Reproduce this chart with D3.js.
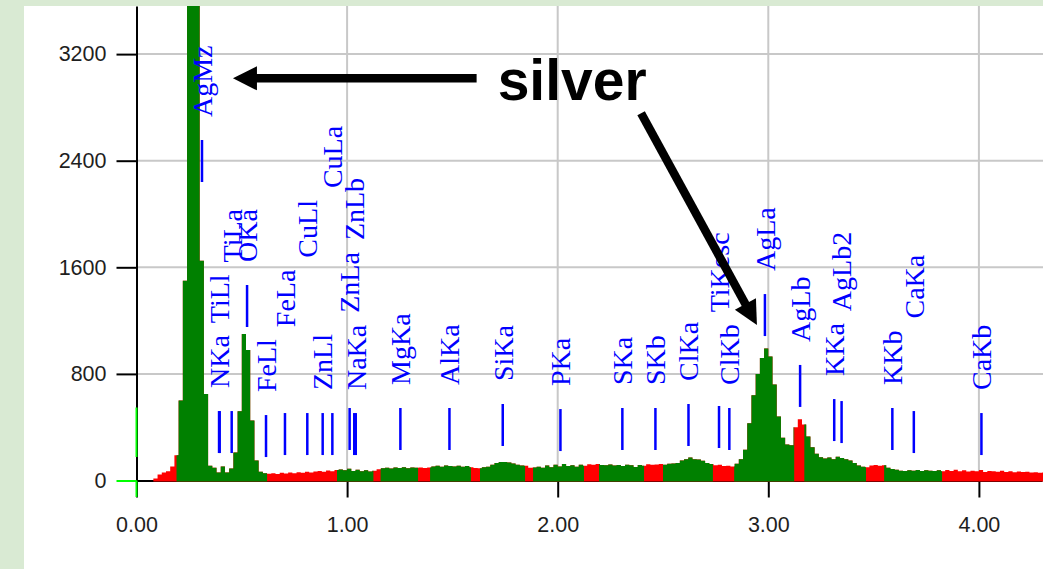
<!DOCTYPE html>
<html>
<head>
<meta charset="utf-8">
<script src="https://cdn.jsdelivr.net/npm/d3@7"></script>
<style>
  body { margin: 0; background: #d9ead3; }
  #chart { width: 1043px; height: 569px; }
  .tick text { font-family: "Liberation Sans", Arial, sans-serif; font-size: 21.5px; fill: #1e1e1e; }
</style>
</head>
<body>
<div id="chart"></div>
<script>
// spectrum: counts per 0.02 keV channel, first channel at 0 keV
var channelStep = 0.02;
var counts = [
  0, 0, 0, 0, 15, 45, 60, 70, 105, 190,
  600, 1500, 4000, 4500, 4200, 1650, 650, 110, 95, 60,
  105, 60, 90, 210, 520, 1100, 980, 450, 150, 65,
  55, 50, 55, 48, 58, 52, 60, 55, 62, 58,
  66, 60, 68, 72, 66, 75, 70, 78, 82, 76,
  88, 72, 80, 70, 76, 68, 74, 84, 92, 96,
  90, 98, 94, 100, 92, 98, 95, 97, 94, 98,
  105, 110, 104, 112, 108, 106, 110, 104, 108, 100,
  94, 92, 100, 104, 118, 132, 138, 138, 136, 128,
  118, 112, 110, 96, 98, 104, 96, 112, 100, 118,
  106, 124, 108, 114, 104, 118, 110, 122, 118, 124,
  116, 114, 120, 112, 116, 108, 118, 114, 102, 116,
  110, 122, 118, 120, 124, 118, 126, 128, 132, 150,
  160, 172, 160, 158, 148, 132, 124, 114, 118, 108,
  110, 106, 125, 160, 230, 430, 640, 800, 920, 990,
  930, 720, 480, 320, 270, 265, 400, 460, 420, 330,
  250, 200, 175, 165, 172, 160, 178, 168, 160, 150,
  132, 112, 104, 100, 112, 116, 110, 114, 96, 86,
  80, 74, 72, 76, 74, 78, 72, 76, 74, 72,
  76, 70, 78, 72, 80, 70, 76, 68, 74, 70,
  78, 64, 72, 70, 66, 74, 64, 70, 62, 68,
  64, 66, 60, 62, 58, 60
];

// energy windows drawn green, the rest of the spectrum is red
var greenRegions = [
  [0.19, 0.62], [0.952, 1.125], [1.159, 1.337], [1.394, 1.588], [1.631, 1.845],
  [1.883, 2.125], [2.196, 2.41], [2.50, 2.737], [2.838, 3.123], [3.171, 3.464], [3.55, 3.825]
];

// line markers (K lines, then L lines, then M lines, then escape peaks)
var lineNames = ["NKa", "OKa", "NaKa", "MgKa", "AlKa", "SiKa", "PKa", "SKa", "SKb", "ClKa", "ClKb", "KKa", "KKb", "CaKa", "CaKb",
  "TiLl", "TiLa", "FeLl", "FeLa", "CuLl", "ZnLl", "CuLa", "ZnLa", "ZnLb", "AgLa", "AgLb", "AgLb2",
  "AgMz",
  "TiKesc"];
var lineEnergies = [0.392, 0.525, 1.041, 1.253, 1.486, 1.739, 2.013, 2.307, 2.464, 2.621, 2.815, 3.313, 3.589, 3.691, 4.012,
  0.395, 0.452, 0.615, 0.705, 0.811, 0.884, 0.930, 1.012, 1.034, 2.984, 3.151, 3.348,
  0.311,
  2.766];
// count level at the foot of each marker
var lineLevels = [206, 1152, 191, 229, 229, 259, 221, 229, 229, 259, 229, 296, 229, 206, 191,
  206, 206, 176, 191, 191, 191, 191, 229, 191, 1084, 552, 281,
  2240,
  244];

var xTickValues = [0, 1, 2, 3, 4];
var yTickValues = [0, 800, 1600, 2400, 3200];

var noteText = "silver";
var noteAt = [1.715, 2859];
var noteArrows = [
  { from: [1.615, 3018], to: [0.458, 3018] },
  { from: [2.396, 2756], to: [2.946, 1167] }
];

function generateChart(id) {
  var width = 1043, height = 569;
  var left = 136.5, top = 6, bottom = 480.5;

  var container = d3.select("#" + id);
  var svg = container.append("svg")
    .attr("width", width)
    .attr("height", height);

  svg.append("rect")
    .attr("x", 24).attr("y", top)
    .attr("width", width - 24).attr("height", height - top)
    .attr("fill", "#ffffff");

  var x = d3.scaleLinear().domain([0, 4.3]).range([left, left + 4.3 * 210.6]);
  var y = d3.scaleLinear().domain([0, 3561]).range([bottom, top]);

  // grid
  var grid = svg.append("g").attr("stroke", "#c8c8c8").attr("stroke-width", 2);
  grid.selectAll(".gx").data(xTickValues.slice(1)).enter().append("line")
    .attr("x1", function(d) { return x(d); }).attr("x2", function(d) { return x(d); })
    .attr("y1", top).attr("y2", bottom);
  grid.selectAll(".gy").data(yTickValues.slice(1)).enter().append("line")
    .attr("x1", left).attr("x2", width)
    .attr("y1", function(d) { return y(d); }).attr("y2", function(d) { return y(d); });

  // x axis
  var xAxis = svg.append("g")
    .attr("transform", "translate(0," + bottom + ")")
    .call(d3.axisBottom(x).tickValues(xTickValues).tickFormat(d3.format(".2f"))
      .tickSize(17).tickSizeOuter(0).tickPadding(19));
  xAxis.select(".domain").attr("stroke", "#000").attr("stroke-width", 2);
  xAxis.selectAll(".tick line").attr("stroke", "#000").attr("stroke-width", 2);

  // spectrum
  var spectrum = counts.map(function(c, i) { return { e: i * channelStep, c: c }; });
  spectrum.push({ e: counts.length * channelStep, c: counts[counts.length - 1] });
  var area = d3.area()
    .curve(d3.curveStepAfter)
    .x(function(d) { return x(d.e); })
    .y0(bottom + 1)
    .y1(function(d) { return d.c > 0 ? y(d.c) : bottom + 1; });

  var defs = svg.append("defs");
  defs.append("clipPath").attr("id", "plotClip").append("rect")
    .attr("x", left).attr("y", top).attr("width", width - left).attr("height", bottom + 2 - top);
  var greenClip = defs.append("clipPath").attr("id", "greenClip");
  greenClip.selectAll("rect").data(greenRegions).enter().append("rect")
    .attr("x", function(d) { return x(d[0]); })
    .attr("width", function(d) { return x(d[1]) - x(d[0]); })
    .attr("y", top).attr("height", bottom + 2 - top);

  svg.append("path").datum(spectrum)
    .attr("d", area).attr("fill", "#ff0000").attr("clip-path", "url(#plotClip)");
  svg.append("path").datum(spectrum)
    .attr("d", area).attr("fill", "#008000").attr("clip-path", "url(#greenClip)");

  // y axis
  var yAxis = svg.append("g")
    .attr("transform", "translate(" + left + ",0)")
    .call(d3.axisLeft(y).tickValues(yTickValues).tickFormat(d3.format("d"))
      .tickSize(20).tickSizeOuter(0).tickPadding(10));
  yAxis.select(".domain").attr("stroke", "#000").attr("stroke-width", 2);
  yAxis.selectAll(".tick line")
    .attr("stroke", function(d) { return d === 0 ? "#00ff00" : "#000"; })
    .attr("stroke-width", 2);

  // cursor at 0 keV
  svg.append("line").attr("x1", x(0)).attr("x2", x(0)).attr("y1", bottom - 73).attr("y2", bottom - 23.5)
    .attr("stroke", "#00ff00").attr("stroke-width", 2);
  svg.append("line").attr("x1", x(0)).attr("x2", x(0)).attr("y1", bottom).attr("y2", bottom + 16.5)
    .attr("stroke", "#00ff00").attr("stroke-width", 2);

  // line markers and labels, stacked upward when they would collide
  var lines = lineNames.map(function(n, i) { return { name: n, energy: lineEnergies[i], level: lineLevels[i] }; });
  var markerLen = 42, labelGap = 23, stackGap = 12, stackWidth = 26;
  var lineGroup = svg.append("g");
  var placed = [];
  lines.forEach(function(l) {
    var lx = x(l.energy), foot = y(l.level);
    lineGroup.append("line")
      .attr("x1", lx).attr("x2", lx).attr("y1", foot).attr("y2", foot - markerLen)
      .attr("stroke", "#0000ff").attr("stroke-width", 2.5);
    var label = lineGroup.append("text")
      .text(l.name)
      .attr("font-family", "'Liberation Serif', 'Times New Roman', serif")
      .attr("font-size", 28)
      .attr("fill", "#0000ff")
      .attr("dy", "0.35em");
    var len = label.node().getComputedTextLength();
    var base = foot - markerLen - labelGap;
    var depth = 0;
    var moved = true;
    while (moved) {
      moved = false;
      placed.forEach(function(p) {
        if (!p.obstacle || Math.abs(p.x - lx) >= stackWidth) return;
        if (base > p.top - stackGap && base - len < p.base + stackGap) {
          base = p.top - stackGap;
          depth++;
          moved = true;
        }
      });
    }
    label.attr("transform", "translate(" + lx + "," + base + ") rotate(-90)");
    // labels riding on a peak, or already stacked twice, are not checked against
    placed.push({ x: lx, base: base, top: base - len, obstacle: l.level < 400 && depth < 2 });
  });

  // annotation
  var note = svg.append("g");
  note.append("text")
    .attr("x", x(noteAt[0])).attr("y", y(noteAt[1]))
    .attr("font-family", "'Liberation Sans', Arial, sans-serif")
    .attr("font-weight", "bold").attr("font-size", 57)
    .attr("fill", "#000")
    .text(noteText);
  var headLen = 24, headHalf = 12;
  noteArrows.forEach(function(a) {
    var x0 = x(a.from[0]), y0 = y(a.from[1]), x1 = x(a.to[0]), y1 = y(a.to[1]);
    var dx = x1 - x0, dy = y1 - y0, n = Math.sqrt(dx * dx + dy * dy);
    var ux = dx / n, uy = dy / n;
    var bx = x1 - ux * headLen, by = y1 - uy * headLen;
    note.append("line")
      .attr("x1", x0).attr("y1", y0).attr("x2", bx + ux * 2).attr("y2", by + uy * 2)
      .attr("stroke", "#000").attr("stroke-width", 8.5);
    note.append("polygon")
      .attr("points", [[x1, y1], [bx - uy * headHalf, by + ux * headHalf], [bx + uy * headHalf, by - ux * headHalf]]
        .map(function(p) { return p.join(","); }).join(" "))
      .attr("fill", "#000");
  });
}

generateChart("chart");
</script>
</body>
</html>
